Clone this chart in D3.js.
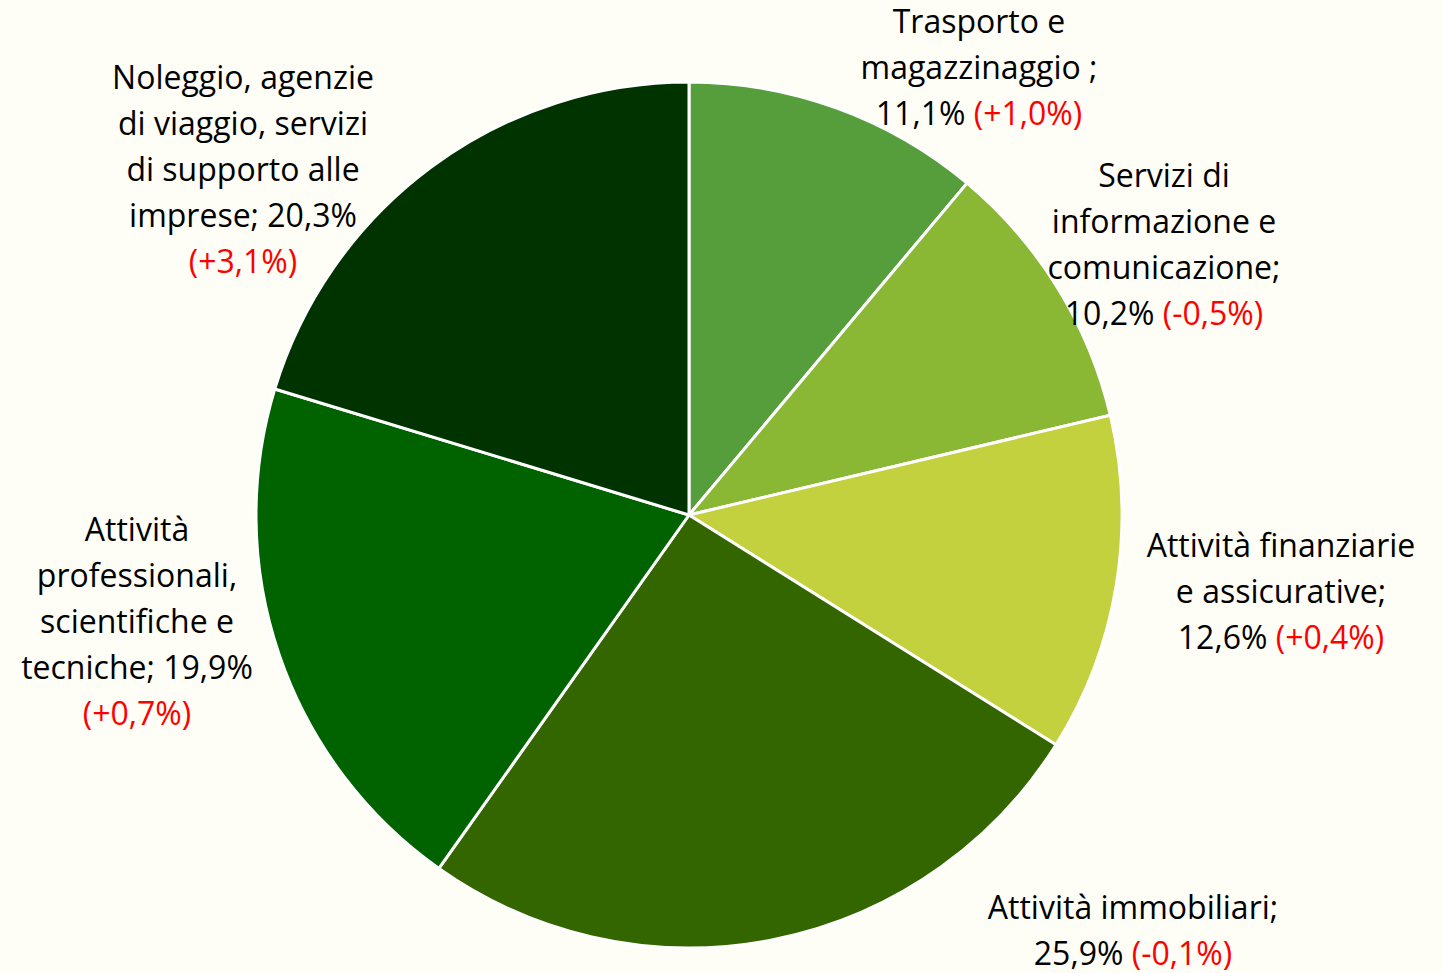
<!DOCTYPE html>
<html>
<head>
<meta charset="utf-8">
<script src="https://cdn.jsdelivr.net/npm/d3@7"></script>
<style>
  html, body { margin: 0; padding: 0; background: #fefef6; }
  svg text { font-family: "Open Sans", sans-serif; }
</style>
</head>
<body>
<svg id="chart" width="1443" height="973"></svg>
<script>
//settori e quote
var sectors = ["Trasporto e magazzinaggio ;", "Servizi di informazione e comunicazione;",
  "Attività finanziarie e assicurative;", "Attività immobiliari;",
  "Attività professionali, scientifiche e tecniche;",
  "Noleggio, agenzie di viaggio, servizi di supporto alle imprese;"];
var shares = [11.1, 10.2, 12.6, 25.9, 19.9, 20.3];
var changes = ["+1,0%", "-0,5%", "+0,4%", "-0,1%", "+0,7%", "+3,1%"];
var colors = ["#559e3b", "#8ab734", "#c3d13f", "#346600", "#006300", "#003300"];

//label lines (text split as in the picture), last line gets the red change
var labelLines = [
  ["Trasporto e", "magazzinaggio ;", "11,1%"],
  ["Servizi di", "informazione e", "comunicazione;", "10,2%"],
  ["Attività finanziarie", "e assicurative;", "12,6%"],
  ["Attività immobiliari;", "25,9%"],
  ["Attività", "professionali,", "scientifiche e", "tecniche; 19,9%", ""],
  ["Noleggio, agenzie", "di viaggio, servizi", "di supporto alle", "imprese; 20,3%", ""]
];
//label anchor: center x, first line center y
var labelPos = [[979, 22], [1164, 176], [1281, 546], [1133, 908], [137, 530], [243, 78]];

var cx = 689, cy = 515, radius = 433;
var lineH = 46, fontSize = 32;

var svg = d3.select("#chart");
var g = svg.append("g").attr("transform", "translate(" + cx + "," + cy + ")");

var pie = d3.pie().sort(null).value(function(d){ return d; });
var arc = d3.arc().innerRadius(0).outerRadius(radius);

g.selectAll("path.slice")
  .data(pie(shares))
  .enter()
  .append("path")
  .attr("class", "slice")
  .attr("d", arc)
  .style("fill", function(d, i){ return colors[i]; })
  .style("stroke", "#ffffff")
  .style("stroke-width", 3)
  .style("stroke-linejoin", "round");

var labels = svg.selectAll(".lbl")
  .data(labelLines)
  .enter()
  .append("text")
  .attr("class", "lbl")
  .attr("text-anchor", "middle")
  .style("font-size", fontSize + "px")
  .style("fill", "#000");

labels.each(function(lines, i){
  var t = d3.select(this);
  var p = labelPos[i];
  lines.forEach(function(line, j){
    var last = j == lines.length - 1;
    var ts = t.append("tspan")
      .attr("x", p[0])
      .attr("y", p[1] + j * lineH)
      .attr("dy", "0.35em");
    if(last){
      if(line){
        ts.text(line + " ");
      }
      ts.append("tspan").style("fill", "#ff0000").text("(" + changes[i] + ")");
    } else {
      ts.text(line);
    }
  });
});
</script>
</body>
</html>
